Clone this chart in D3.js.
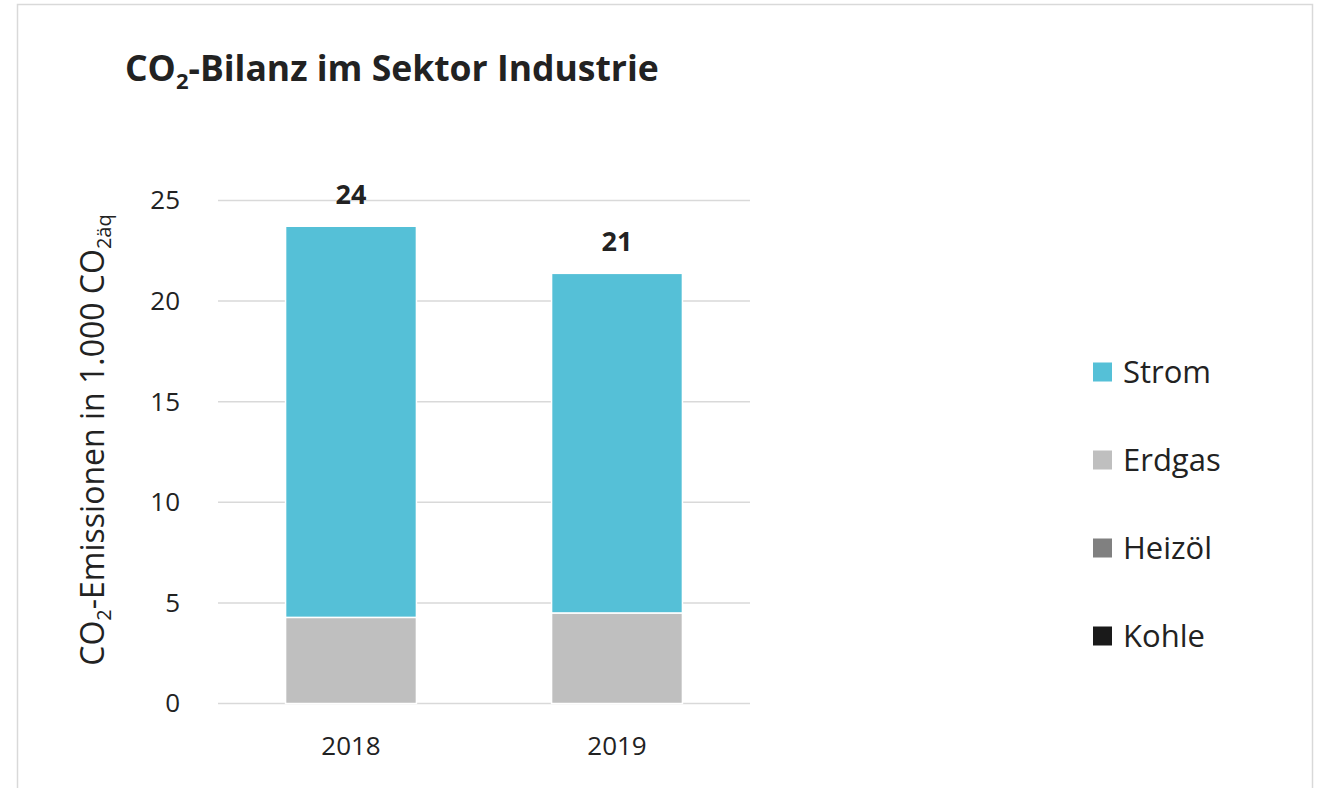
<!DOCTYPE html>
<html><head><meta charset="utf-8">
<script src="https://cdn.jsdelivr.net/npm/d3@7"></script>
<style>body{margin:0;background:#fff;} text{font-family:"Open Sans",sans-serif;fill:#222;}</style>
</head><body>
<svg id="chart" width="1324" height="788"></svg>
<script>
const categories = ["2018", "2019"];
const seriesNames = ["Kohle", "Heizöl", "Erdgas", "Strom"];
const kohle  = [0, 0];
const heizoel = [0, 0];
const erdgas = [4.28, 4.50];
const strom  = [19.44, 16.88];
const totalLabels = ["24", "21"];
const yTicks = [0, 5, 10, 15, 20, 25];
const legendOrder = ["Strom", "Erdgas", "Heizöl", "Kohle"];
const colors = {"Strom":"#55C0D7","Erdgas":"#BFBFBF","Heizöl":"#808080","Kohle":"#1A1A1A"};

const svg = d3.select("#chart");
svg.append("rect").attr("x",17.5).attr("y",4.5).attr("width",1295).attr("height",800)
  .attr("fill","#fff").attr("stroke","#d9d9d9").attr("stroke-width",1.5);

const x = d3.scaleBand().domain(categories).range([218,750]).paddingInner(0.508).paddingOuter(0.254);
const y = d3.scaleLinear().domain([0,25]).range([703.5,200.5]);

// gridlines
svg.append("g").selectAll("line").data(yTicks).join("line")
  .attr("x1",218).attr("x2",750).attr("y1",d=>y(d)).attr("y2",d=>y(d))
  .attr("stroke","#d9d9d9").attr("stroke-width",1.5);

// y axis
const yAxis = svg.append("g").attr("transform","translate(218,0)")
  .call(d3.axisLeft(y).tickValues(yTicks).tickSize(0).tickPadding(38));
yAxis.select(".domain").remove();
yAxis.selectAll("text").style("font-family","'Open Sans',sans-serif").style("font-size","26px").attr("fill","#222");

// x axis
const xAxis = svg.append("g").attr("transform","translate(0,703.5)")
  .call(d3.axisBottom(x).tickSize(0).tickPadding(33));
xAxis.select(".domain").remove();
xAxis.selectAll("text").style("font-family","'Open Sans',sans-serif").style("font-size","26px").attr("fill","#222");

// stacked data
const table = categories.map((c,i)=>({cat:c,"Kohle":kohle[i],"Heizöl":heizoel[i],"Erdgas":erdgas[i],"Strom":strom[i]}));
const stacked = d3.stack().keys(seriesNames)(table);
svg.append("g").selectAll("g").data(stacked).join("g").attr("fill",d=>colors[d.key])
  .selectAll("rect").data(d=>d.filter(p=>p[1]-p[0]>0)).join("rect")
  .attr("x",d=>x(d.data.cat)).attr("width",x.bandwidth())
  .attr("y",d=>y(d[1])).attr("height",d=>y(d[0])-y(d[1]))
  .attr("stroke","#fff").attr("stroke-width",1.5);

// total labels
svg.append("g").selectAll("text").data(table).join("text")
  .attr("x",d=>x(d.cat)+x.bandwidth()/2)
  .attr("y",(d,i)=>y(d.Kohle+d["Heizöl"]+d.Erdgas+d.Strom)-22)
  .attr("text-anchor","middle").style("font-size","27px").style("font-weight","700")
  .text((d,i)=>totalLabels[i]);

// title
const title = svg.append("text").attr("x",125).attr("y",81).style("font-size","35.5px").style("font-weight","700");
title.append("tspan").text("CO");
title.append("tspan").attr("dy",8).style("font-size","22px").text("2");
title.append("tspan").attr("dy",-8).text("-Bilanz im Sektor Industrie");

// y axis title
const yt = svg.append("text").attr("transform","translate(104,440) rotate(-90)")
  .attr("text-anchor","middle").style("font-size","32px");
yt.append("tspan").text("CO");
yt.append("tspan").attr("dy",7).style("font-size","20px").text("2");
yt.append("tspan").attr("dy",-7).text("-Emissionen in 1.000 CO");
yt.append("tspan").attr("dy",7).style("font-size","20px").text("2äq");

// legend
const lg = svg.append("g").selectAll("g").data(legendOrder).join("g")
  .attr("transform",(d,i)=>`translate(1093,${372+i*88})`);
lg.append("rect").attr("x",0).attr("y",-9.5).attr("width",19).attr("height",19).attr("fill",d=>colors[d]);
lg.append("text").attr("x",30).attr("y",11).style("font-size",'31px').text(d=>d);
</script>
</body></html>
